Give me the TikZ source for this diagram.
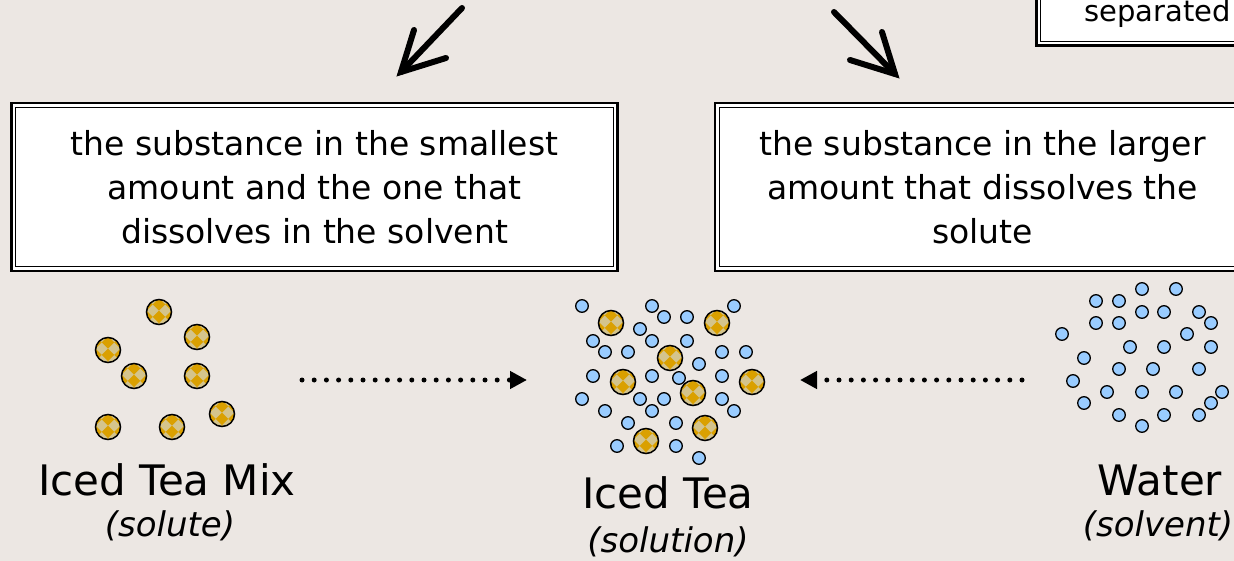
\documentclass[tikz,border=0pt]{standalone}
\usepackage{fontspec}
\setmainfont{DejaVu Sans}
\usetikzlibrary{arrows.meta,calc}

\definecolor{bgcol}{RGB}{236,231,227}
\definecolor{teatan}{RGB}{212,196,140}
\definecolor{teagold}{RGB}{218,160,0}
\definecolor{waterblue}{RGB}{153,204,255}

% a grain of tea mix: tan disc with a diagonal checker of gold
\newcommand\teaball[2]{%
  \begin{scope}[shift={(#1,#2)}]
    \begin{scope}
      \clip (0,0) circle (12.5pt);
      \fill[teatan] (-13pt,-13pt) rectangle (13pt,13pt);
      \begin{scope}[rotate=45]
        \foreach \i in {-2,...,1}{%
          \foreach \j in {-2,...,1}{%
            \pgfmathtruncatemacro\tbparity{mod(\i+\j+10,2)}%
            \ifnum\tbparity=0
              \fill[teagold] (\i*8.8pt+1pt,\j*8.8pt+1pt) rectangle ++(8.8pt,8.8pt);
            \fi
          }}
      \end{scope}
    \end{scope}
    \draw[line width=1.5pt] (0,0) circle (12.5pt);
  \end{scope}}

% a water molecule
\newcommand\waterdot[2]{\draw[line width=1.3pt, fill=waterblue] (#1,#2) circle (6.3pt);}

\tikzset{
  defbox/.style={draw, line width=2.6pt, fill=white, inner sep=0pt, align=center,
                 font=\fontsize{33}{44}\selectfont},
  bigarrow/.style={line width=6pt, line cap=round},
  arrowhead/.style={line width=6pt, line cap=round, line join=miter},
  dotarrow/.style={line width=5pt, line cap=round, dash pattern=on 0pt off 12.2pt,
                   -{Triangle[length=17pt,width=17pt]}},
  bigname/.style={font=\fontsize{42}{48}\selectfont, anchor=base},
  rolename/.style={font=\fontsize{34}{38}\selectfont\itshape, anchor=base},
}

\begin{document}
\begin{tikzpicture}[x=1pt,y=-1pt]
  \useasboundingbox (0,0) rectangle (1234,561);
  \fill[bgcol] (0,0) rectangle (1234,561);
  \clip (0,0) rectangle (1234,561);

  % definition boxes
  \node[defbox, minimum width=606pt, minimum height=168pt] (solutebox) at (314.5,187)
    {the substance in the smallest\\amount and the one that\\dissolves in the solvent};
  \draw[line width=1.2pt] ([xshift=5.5pt,yshift=-5.5pt]solutebox.north west)
    rectangle ([xshift=-5.5pt,yshift=5.5pt]solutebox.south east);

  \node[defbox, minimum width=535pt, minimum height=168pt] (solventbox) at (982.5,187)
    {the substance in the larger\\amount that dissolves the\\solute};
  \draw[line width=1.2pt] ([xshift=5.5pt,yshift=-5.5pt]solventbox.north west)
    rectangle ([xshift=-5.5pt,yshift=5.5pt]solventbox.south east);

  \node[defbox, minimum width=215pt, minimum height=80pt, anchor=south west] (topbox) at (1035,47) {};
  \draw[line width=1.2pt] ([xshift=5.5pt,yshift=-5.5pt]topbox.north west)
    rectangle ([xshift=-5.5pt,yshift=5.5pt]topbox.south east);
  \node[font=\fontsize{29}{32}\selectfont, anchor=base west, inner sep=0pt] (toptext) at (1084,22) {separated};

  % pointer arrows
  \coordinate (lStart) at (462,8);
  \coordinate (lTip) at (401,72);
  \coordinate (lWingA) at (414,30);
  \coordinate (lWingB) at (446,58);
  \draw[bigarrow] (lStart) -- (lTip);
  \draw[arrowhead] (lWingA) -- (lTip) -- (lWingB);

  \coordinate (rStart) at (834,12);
  \coordinate (rTip) at (895,74);
  \coordinate (rWingA) at (882,32);
  \coordinate (rWingB) at (850,60);
  \draw[bigarrow] (rStart) -- (rTip);
  \draw[arrowhead] (rWingA) -- (rTip) -- (rWingB);

  % iced tea mix
  \foreach \x/\y in {159/312,197/337,108/350,134/376,197/376,222/414,108/427,172/427}
    {\teaball{\x}{\y}}

  % iced tea
  \foreach \x/\y in {582/306,652/306,734/306,664/317,687/317,640/329,593/341,652/341,
                     687/341,605/352,628/352,722/352,746/352,699/364,593/376,652/376,
                     679/378,722/376,582/399,640/399,664/399,722/399,605/411,652/411,
                     734/411,628/423,676/423,617/446,676/446,699/458}
    {\waterdot{\x}{\y}}
  \foreach \x/\y in {611/323,717/323,670/358,623/382,752/382,693/393,705/428,646/441}
    {\teaball{\x}{\y}}

  % water
  \foreach \x/\y in {1142/289,1176/289,1096/301,1119/301,1142/312,1164/312,1199/312,
                     1096/323,1119/323,1211/323,1062/334,1187/334,1130/347,1164/347,
                     1211/347,1084/358,1119/369,1153/369,1199/369,1073/381,1107/392,
                     1142/392,1176/392,1222/392,1084/403,1211/403,1119/415,1164/415,
                     1199/415,1142/426}
    {\waterdot{\x}{\y}}

  % mixing arrows
  \coordinate (mixOut) at (302,380);
  \coordinate (teaInL) at (527,380);
  \coordinate (waterOut) at (1022,380);
  \coordinate (teaInR) at (800,380);
  \draw[dotarrow] (mixOut) -- (teaInL);
  \draw[dotarrow] (waterOut) -- (teaInR);

  % labels
  \node[bigname] (mixname) at (167,495) {Iced Tea Mix};
  \node[rolename] (mixrole) at (170,536) {(solute)};
  \node[bigname] (teaname) at (668,508) {Iced Tea};
  \node[rolename] (tearole) at (668,552) {(solution)};
  \node[bigname] (watername) at (1160,495) {Water};
  \node[rolename] (waterrole) at (1158,536) {(solvent)};
\end{tikzpicture}
\end{document}
